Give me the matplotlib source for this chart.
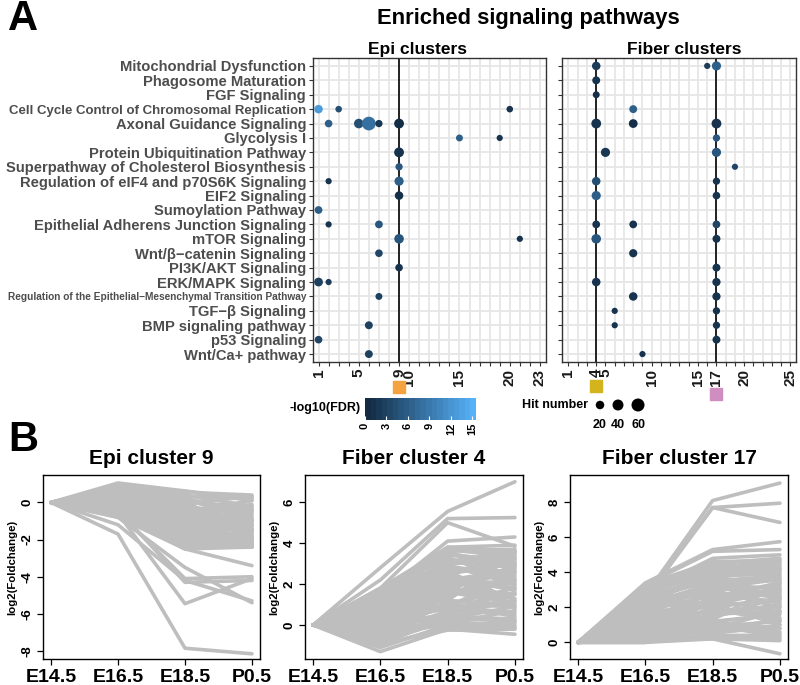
import numpy as np
import matplotlib
matplotlib.use("Agg")
import matplotlib.pyplot as plt
from matplotlib.colors import LinearSegmentedColormap

plt.rcParams['font.family'] = ['Liberation Sans', 'DejaVu Sans']
plt.rcParams['font.weight'] = 'bold'

pathways = ["Mitochondrial Dysfunction", "Phagosome Maturation", "FGF Signaling",
            "Cell Cycle Control of Chromosomal Replication", "Axonal Guidance Signaling",
            "Glycolysis I", "Protein Ubiquitination Pathway",
            "Superpathway of Cholesterol Biosynthesis",
            "Regulation of eIF4 and p70S6K Signaling", "EIF2 Signaling",
            "Sumoylation Pathway", "Epithelial Adherens Junction Signaling",
            "mTOR Signaling", "Wnt/\u03b2\u2212catenin Signaling", "PI3K/AKT Signaling",
            "ERK/MAPK Signaling",
            "Regulation of the Epithelial\u2212Mesenchymal Transition Pathway",
            "TGF\u2212\u03b2 Signaling", "BMP signaling pathway", "p53 Signaling",
            "Wnt/Ca+ pathway"]

# Epi clusters: row index (1 = top), cluster, hit number, -log10(FDR)
epi_row = [4, 4, 4, 5, 5, 5, 5, 5, 6, 6, 7, 8, 9, 9, 10, 11, 12, 12, 13, 13,
           14, 15, 16, 16, 17, 19, 20, 21]
epi_cluster = [1, 3, 20, 2, 5, 6, 7, 9, 15, 19, 9, 9, 2, 9, 9, 1, 2, 7, 9, 21,
               7, 9, 1, 2, 7, 6, 1, 6]
epi_hits = [20, 8, 8, 14, 28, 68, 12, 30, 10, 6, 30, 12, 6, 25, 20, 15, 6, 15, 28, 6,
            14, 14, 22, 6, 10, 16, 14, 16]
epi_fdr = [13, 4, 1, 6, 4, 8, 1.5, 0.3, 6, 1, 0.8, 5, 1, 6, 0.5, 6, 1, 5, 5, 1,
           3, 1, 2.5, 2, 2.5, 2.5, 3, 2.5]

# Fiber clusters
fib_row = [1, 1, 1, 2, 3, 4, 5, 5, 5, 6, 7, 7, 8, 9, 9, 10, 10, 12, 12, 12,
           13, 13, 14, 15, 16, 16, 17, 17, 18, 18, 19, 19, 20, 21]
fib_cluster = [4, 16, 17, 4, 4, 8, 4, 8, 17, 17, 5, 17, 19, 4, 17, 4, 17, 4, 8, 17,
               4, 17, 8, 17, 4, 17, 8, 17, 6, 17, 6, 17, 17, 9]
fib_hits = [20, 6, 25, 16, 10, 16, 30, 22, 30, 12, 25, 25, 6, 20, 12, 25, 14, 15, 15, 15,
            28, 16, 18, 16, 20, 18, 20, 18, 6, 12, 6, 12, 16, 6]
fib_fdr = [2, 2, 6, 1, 0.5, 6, 1, 0.5, 1, 5, 1.5, 5, 3, 4, 1, 6, 1, 1, 1, 3,
           5, 1, 1, 1, 1, 1, 1, 1, 1, 1, 1, 1, 1, 1]

stages = ["E14.5", "E16.5", "E18.5", "P0.5"]

epi9_lines = [
    [0, 1.05, 0.62, 0.20], [0, 0.95, 0.55, 0.40], [0, 0.80, 0.60, 0.10],
    [0, -1.70, -7.85, -8.15], [0, -1.20, -4.20, -5.30], [0, -0.60, -5.45, -4.10],
    [0, -0.80, -3.50, -5.40], [0, -0.50, -4.10, -4.00], [0, -0.40, -4.30, -4.20],
    [0, -0.70, -2.50, -3.40],
    [0, 0.6, 0.3, 0.35], [0, 0.5, 0.0, -0.2], [0, 0.4, -0.3, -0.6], [0, 0.3, -0.6, -1.0],
    [0, 0.2, -0.9, -1.3], [0, 0.1, -1.2, -1.6], [0, 0.0, -1.5, -1.9], [0, -0.1, -1.8, -2.2],
    [0, -0.2, -2.1, -2.3], [0, -0.3, -2.4, -1.5], [0, -0.5, -2.2, -2.0], [0, -0.6, -1.9, -2.4],
    [0, -0.7, -1.0, -0.8], [0, 0.7, 0.2, -0.5], [0, 0.5, -0.5, 0.1], [0, 0.3, -0.1, -1.2],
    [0, 0.2, 0.1, -2.1], [0, 0.0, -0.4, -0.3], [0, -0.2, -0.8, -0.1], [0, -0.4, -1.3, -0.9],
    [0, 0.4, -1.6, -1.4], [0, 0.1, -2.0, -1.7], [0, -0.1, -2.3, -2.0], [0, 0.6, -0.2, -1.8],
    [0, 0.8, 0.4, -0.2], [0, -0.3, -0.6, -2.3], [0, 0.2, -1.1, 0.2], [0, -0.5, -1.7, -1.1],
    [0, 0.3, -2.5, -2.3], [0, -0.6, -2.4, -2.2],
    [0, 0.9, 0.1, -0.4], [0, 0.7, -0.4, -0.9], [0, 0.6, -0.8, -1.5], [0, 0.5, -1.1, -2.0],
    [0, 0.4, -1.4, -0.5], [0, 0.3, -1.7, -1.0], [0, 0.2, -2.2, -1.6], [0, 0.1, -0.7, -2.4],
    [0, 0.0, -1.0, -1.4], [0, -0.1, -0.2, -0.7], [0, -0.2, -1.4, -1.8], [0, -0.3, -1.9, -1.2],
    [0, -0.4, -2.0, -2.4], [0, -0.5, -0.9, -1.6], [0, -0.6, -1.5, -2.1], [0, -0.7, -2.2, -1.9],
    [0, -0.8, -2.5, -2.4], [0, 0.6, 0.0, 0.3], [0, 0.4, 0.2, -1.0], [0, 0.8, -0.6, -1.2],
    [0, 0.2, -0.3, -1.5], [0, -0.2, -1.2, -2.2], [0, 0.5, -1.8, -2.0], [0, -0.4, -0.4, -0.4],
    [0, 0.1, -2.4, -1.8]]

fib4_lines = [
    [0, 2.80, 5.55, 7.00], [0, 2.20, 5.20, 5.25], [0, 1.80, 5.00, 3.85],
    [0, 1.50, 4.10, 4.30], [0, 1.70, 3.80, 3.90], [0, -1.30, -0.20, -0.45],
    [0, -1.00, -0.10, -0.15], [0, -0.90, -0.25, -0.20],
    [0, 1.6, 3.6, 3.7], [0, 1.4, 3.4, 3.2], [0, 1.2, 3.0, 3.5], [0, 1.0, 2.8, 2.6],
    [0, 0.9, 2.5, 3.0], [0, 0.8, 2.2, 2.0], [0, 0.7, 2.0, 2.5], [0, 0.6, 1.8, 1.5],
    [0, 0.5, 1.5, 2.2], [0, 0.4, 1.2, 1.0], [0, 0.3, 1.0, 1.8], [0, 0.2, 0.8, 0.5],
    [0, 0.1, 0.5, 1.2], [0, 0.0, 0.3, 0.2], [0, -0.2, 0.1, 0.7], [0, -0.4, 0.0, 0.0],
    [0, -0.6, 0.4, 0.3], [0, -0.8, 0.2, 1.5], [0, 1.1, 3.2, 2.8], [0, 0.9, 1.6, 3.3],
    [0, 0.6, 2.6, 1.2], [0, 0.3, 2.4, 3.6], [0, 0.2, 1.4, 2.9], [0, -0.1, 0.9, 2.4],
    [0, -0.3, 0.6, 1.9], [0, 1.3, 2.7, 0.8], [0, 0.5, 3.3, 2.1], [0, 0.8, 3.7, 3.4],
    [0, -0.5, 1.1, 0.4], [0, 0.4, 0.2, -0.1],
    [0, 1.8, 3.8, 3.6], [0, 1.5, 3.5, 2.9], [0, 1.3, 3.1, 3.6], [0, 1.1, 2.9, 2.3],
    [0, 0.9, 2.1, 2.8], [0, 0.7, 3.0, 3.1], [0, 0.5, 2.3, 1.7], [0, 0.3, 1.9, 2.6],
    [0, 0.1, 1.7, 1.3], [0, -0.1, 1.3, 3.0], [0, -0.3, 1.0, 0.9], [0, -0.5, 0.7, 1.6],
    [0, -0.7, 0.5, 0.2], [0, -0.9, 0.3, 0.9], [0, -1.1, 0.0, 0.1], [0, 1.0, 1.9, 2.2],
    [0, 0.6, 1.2, 3.5], [0, 0.2, 2.9, 2.0], [0, -0.2, 2.2, 2.7], [0, 0.8, 0.9, 0.6],
    [0, 1.2, 2.4, 1.8], [0, 0.4, 3.5, 3.0], [0, -0.4, 1.6, 1.1], [0, 0.0, 2.6, 3.2],
    [0, 1.4, 3.7, 3.3]]

fib17_lines = [
    [0, 2.70, 8.10, 9.10], [0, 2.60, 7.70, 7.95], [0, 2.50, 7.70, 6.85],
    [0, 3.40, 5.30, 5.75], [0, 3.30, 5.20, 5.30], [0, 2.90, 4.80, 5.00],
    [0, 0.00, 0.20, -0.65],
    [0, 3.2, 4.5, 4.8], [0, 3.0, 4.3, 4.6], [0, 2.8, 4.0, 4.2], [0, 2.6, 3.8, 3.9],
    [0, 2.4, 3.6, 3.5], [0, 2.2, 3.3, 3.7], [0, 2.0, 3.0, 3.2], [0, 1.8, 2.7, 2.8],
    [0, 1.6, 2.4, 3.0], [0, 1.4, 2.1, 2.4], [0, 1.2, 1.8, 2.0], [0, 1.0, 1.5, 2.2],
    [0, 0.8, 1.2, 1.6], [0, 0.6, 0.9, 1.2], [0, 0.4, 0.6, 0.8], [0, 0.2, 0.4, 0.4],
    [0, 0.1, 0.3, 0.2], [0, 0.0, 0.5, 1.0], [0, 0.3, 1.0, 0.3], [0, 0.5, 2.0, 1.4],
    [0, 0.9, 2.6, 3.4], [0, 1.5, 3.5, 2.6], [0, 1.9, 1.6, 1.8], [0, 2.3, 2.9, 4.0],
    [0, 2.7, 4.4, 3.6], [0, 3.1, 3.9, 4.4], [0, 1.1, 0.8, 0.6], [0, 0.7, 3.2, 2.5],
    [0, 2.5, 2.2, 1.0], [0, 0.2, 1.3, 3.3],
    [0, 3.3, 4.6, 4.7], [0, 2.9, 4.1, 4.5], [0, 2.5, 3.7, 4.1], [0, 2.1, 3.4, 3.0],
    [0, 1.7, 3.1, 3.6], [0, 1.3, 2.8, 2.3], [0, 0.9, 2.2, 2.9], [0, 0.5, 1.6, 2.1],
    [0, 0.3, 1.9, 1.2], [0, 0.1, 0.8, 1.8], [0, 0.0, 1.1, 0.5], [0, 0.2, 0.2, 0.1],
    [0, 0.4, 2.5, 1.7], [0, 0.6, 1.4, 2.6], [0, 0.8, 3.0, 2.0], [0, 1.0, 0.7, 1.3],
    [0, 1.2, 2.3, 3.1], [0, 1.4, 3.7, 4.3], [0, 1.6, 1.2, 0.8], [0, 1.8, 3.3, 2.7],
    [0, 2.0, 4.2, 4.7], [0, 2.2, 2.0, 2.5], [0, 2.6, 3.5, 3.8], [0, 2.8, 2.5, 3.4],
    [0, 3.0, 4.5, 4.2]]

W, H = 800, 685
fig = plt.figure(figsize=(W / 100, H / 100), dpi=100)
cmap = LinearSegmentedColormap.from_list("gg", ["#132B43", "#56B1F7"])
VMAX = 15.5


def ax_px(l, t, r, b):
    return fig.add_axes([l / W, 1 - b / H, (r - l) / W, (b - t) / H])


def size_of(h):
    return 12.5 + 1.25 * np.asarray(h, dtype=float)


def dot_panel(ax, rows, clusters, hits, fdr, xmax, vlines, labels, show_names):
    ax.set_xlim(0.45 if xmax == 23 else 0.3, xmax + 0.6)
    ax.set_ylim(len(pathways) + 0.55, 0.45)
    for v in range(1, xmax + 1):
        ax.axvline(v, color="#E6E6E6", lw=1.3, zorder=0)
    for r in range(1, len(pathways) + 1):
        ax.axhline(r, color="#E6E6E6", lw=1.3, zorder=0)
    for v in vlines:
        ax.axvline(v, color="#222222", lw=1.4, zorder=2)
    ax.scatter(clusters, rows, s=size_of(hits), c=fdr, cmap=cmap, vmin=0, vmax=VMAX,
               edgecolors="none", zorder=3)
    ax.set_xticks(range(1, xmax + 1))
    ax.set_xticklabels([str(v) if v in labels else "" for v in range(1, xmax + 1)],
                       rotation=90, fontsize=11, fontweight="bold", color="#1a1a1a")
    ax.set_yticks(range(1, len(pathways) + 1))
    if show_names:
        ax.set_yticklabels(pathways, fontsize=10.6, fontweight="bold", color="#4D4D4D")
        for t in ax.get_yticklabels():
            if t.get_text().startswith("Cell Cycle"):
                t.set_fontsize(9.5)
            elif t.get_text().startswith("Regulation of the"):
                t.set_fontsize(7.3)
    else:
        ax.set_yticklabels([])
    ax.tick_params(axis="both", length=3, width=0.8, color="#333333", pad=2)
    for s in ax.spines.values():
        s.set_color("#333333")
        s.set_linewidth(1.0)


ax_epi = ax_px(313, 58, 546, 362)
dot_panel(ax_epi, epi_row, epi_cluster, epi_hits, epi_fdr, 23, [9],
          [1, 5, 9, 10, 15, 20, 23], True)

ax_fib = ax_px(562, 58, 796, 362)
dot_panel(ax_fib, fib_row, fib_cluster, fib_hits, fib_fdr, 25, [4, 17],
          [1, 4, 5, 10, 15, 17, 20, 25], False)

# cluster colour keys below the axes
ax_epi.scatter([9], [23.3], marker="s", s=75, color="#F4A340", clip_on=False, zorder=5)
ax_fib.scatter([4], [23.2], marker="s", s=75, color="#D4B41C", clip_on=False, zorder=5)
ax_fib.scatter([17], [23.8], marker="s", s=75, color="#D08DC0", clip_on=False, zorder=5)

# colorbar
cax = ax_px(365, 398, 476, 420)
grad = np.linspace(0, VMAX, 20).reshape(1, -1)
cax.imshow(grad, aspect="auto", cmap=cmap, extent=[0, VMAX, 0, 1], vmin=0, vmax=VMAX)
cax.set_yticks([])
cax.set_xticks([0, 3, 6, 9, 12, 15])
cax.set_xticklabels(["0", "3", "6", "9", "12", "15"], rotation=90, fontsize=8,
                    fontweight="bold")
cax.tick_params(axis="x", length=3, color="white", pad=2, direction="in")
for s in cax.spines.values():
    s.set_visible(False)

# overlay for free text and size legend
ov = fig.add_axes([0, 0, 1, 1], zorder=-1)
ov.set_xlim(0, W)
ov.set_ylim(H, 0)
ov.axis("off")
ov.text(8, 19, "A", fontsize=30, fontweight="bold", va="center", ha="left")
ov.text(8, 440, "B", fontsize=30, fontweight="bold", va="center", ha="left")
ov.text(528, 18, "Enriched signaling pathways", fontsize=15.8, fontweight="bold",
        ha="center", va="center")
ov.text(417, 49, "Epi clusters", fontsize=12.5, fontweight="bold", ha="center", va="center")
ov.text(684, 49, "Fiber clusters", fontsize=12.5, fontweight="bold", ha="center",
        va="center")
ov.text(361, 408, "-log10(FDR)", fontsize=9, fontweight="bold", ha="right", va="center")
ov.text(588, 405, "Hit number", fontsize=9, fontweight="bold", ha="right", va="center")
leg_hits = [20, 40, 60]
leg_x = [600, 618, 638]
ov.scatter(leg_x, [405] * 3, s=size_of(leg_hits), color="black", edgecolors="none")
for x, h in zip(leg_x, leg_hits):
    ov.text(x, 425, str(h), fontsize=9, fontweight="bold", ha="center", va="center")


def line_panel(box, lines, ylim, yticks, title):
    ax = ax_px(*box)
    for ln in lines:
        ax.plot(range(len(stages)), ln, color="#BEBEBE", lw=2.6, solid_capstyle="round")
    ax.set_xlim(-0.12, 3.12)
    ax.set_ylim(*ylim)
    ax.set_xticks(range(len(stages)))
    ax.set_xticklabels(stages, fontsize=14, fontweight="bold")
    ax.set_yticks(yticks)
    ax.set_yticklabels([str(v) for v in yticks], rotation=90, va="center",
                       fontsize=9.5, fontweight="bold")
    ax.tick_params(axis="both", length=4, width=0.9, pad=3)
    ax.set_ylabel("log2(Foldchange)", fontsize=8.2, fontweight="bold", labelpad=3)
    ax.set_title(title, fontsize=15, fontweight="bold", pad=8)
    for s in ax.spines.values():
        s.set_linewidth(1.0)
    return ax


line_panel((43, 475, 260, 659), epi9_lines, (-8.43, 1.48), [-8, -6, -4, -2, 0],
           "Epi cluster 9")
line_panel((305, 475, 523, 659), fib4_lines, (-1.66, 7.33), [0, 2, 4, 6],
           "Fiber cluster 4")
line_panel((570, 475, 788, 659), fib17_lines, (-0.95, 9.56), [0, 2, 4, 6, 8],
           "Fiber cluster 17")

fig.savefig("out.png", dpi=100)
